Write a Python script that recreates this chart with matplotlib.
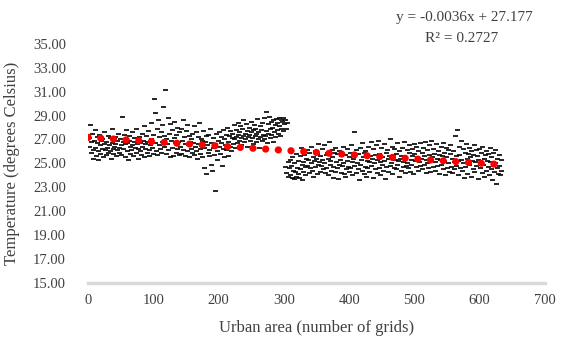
import matplotlib.pyplot as plt
import numpy as np

# temperature per urban grid count (1 value per grid)
temps = [
    27.1, 26.4, 28.2, 25.9, 26.8, 27.5, 26.1, 25.4, 26.9, 27.8,
    26.3, 25.6, 27.2, 26.7, 25.3, 26.0, 27.4, 26.5, 25.8, 26.9,
    27.0, 26.2, 25.5, 26.6, 27.6, 26.1, 25.7, 26.8, 26.3, 27.3,
    25.9, 26.5, 27.1, 26.0, 25.4, 26.7, 27.9, 26.2, 25.8, 26.4,
    27.2, 26.6, 25.6, 26.9, 26.1, 27.5, 25.9, 26.3, 27.0, 26.5,
    25.7, 28.9, 26.8, 26.2, 27.4, 25.5, 26.6, 27.8, 26.0, 26.7,
    25.3, 26.9, 27.3, 26.4, 25.8, 26.1, 27.6, 26.5, 25.6, 26.8,
    27.1, 26.3, 25.9, 27.9, 26.6, 25.4, 26.2, 27.2, 26.7, 26.0,
    25.7, 27.5, 26.4, 26.9, 25.5, 28.1, 26.2, 26.6, 27.3, 25.9,
    26.8, 27.7, 26.1, 25.6, 26.5, 27.0, 28.4, 26.3, 25.8, 27.4,
    30.4, 26.7, 29.2, 26.0, 27.9, 25.7, 28.6, 26.5, 27.2, 26.2,
    27.6, 25.9, 28.2, 26.8, 29.7, 26.4, 27.3, 31.1, 25.8, 27.0,
    26.6, 28.8, 26.1, 27.5, 25.5, 28.3, 26.9, 27.8, 26.3, 25.6,
    27.1, 28.5, 26.7, 25.9, 27.4, 26.2, 28.0, 26.8, 25.7, 27.6,
    26.4, 27.9, 25.8, 26.9, 28.6, 26.1, 27.2, 25.6, 26.6, 27.7,
    26.0, 28.2, 26.5, 25.5, 27.3, 26.8, 27.0, 26.2, 25.9, 27.5,
    26.7, 28.1, 25.7, 26.4, 27.6, 26.0, 25.4, 27.2, 26.6, 28.4,
    26.2, 25.8, 27.0, 26.9, 25.5, 27.7, 26.3, 24.6, 26.8, 27.3,
    24.1, 26.5, 25.9, 27.4, 26.1, 25.6, 27.9, 26.7, 24.9, 24.4,
    26.3, 27.1, 25.7, 26.6, 22.7, 27.5, 26.0, 25.3, 26.9, 27.6,
    26.4, 25.8, 27.2, 26.7, 24.8, 27.8, 26.2, 25.5, 27.0, 26.5,
    27.4, 26.1, 28.0, 26.8, 25.6, 27.3, 26.4, 27.7, 26.0, 27.1,
    27.5, 26.6, 28.2, 27.0, 26.3, 27.8, 27.2, 26.7, 28.4, 27.4,
    26.9, 27.6, 28.1, 27.1, 26.5, 27.9, 27.3, 28.6, 26.8, 27.5,
    27.0, 28.3, 27.7, 26.4, 27.2, 28.0, 27.4, 26.9, 28.5, 27.6,
    27.1, 27.8, 26.6, 28.2, 27.3, 27.9, 26.8, 27.5, 28.7, 27.0,
    27.6, 26.3, 28.1, 27.2, 27.8, 26.9, 28.4, 27.4, 27.0, 28.8,
    27.3, 29.3, 27.7, 26.7, 28.3, 27.5, 28.9, 27.1, 27.9, 28.5,
    27.4, 28.0, 26.8, 28.6, 27.6, 28.2, 27.2, 28.7, 27.8, 28.4,
    27.5, 28.8, 28.1, 27.3, 28.6, 27.9, 28.5, 27.7, 28.8, 28.3,
    28.6, 24.7, 27.9, 24.2, 28.4, 25.1, 23.9, 24.6, 25.3, 24.0,
    24.8, 23.8, 25.5, 24.4, 23.7, 25.0, 24.3, 25.8, 23.9, 24.6,
    25.2, 24.1, 23.8, 25.6, 24.5, 26.3, 24.9, 23.6, 25.1, 24.3,
    25.7, 24.7, 24.0, 25.4, 26.1, 24.8, 25.3, 24.2, 25.9, 24.6,
    25.0, 26.4, 24.4, 25.5, 23.9, 25.2, 24.7, 26.0, 25.4, 24.1,
    25.8, 24.9, 26.6, 25.1, 24.3, 25.6, 24.8, 26.2, 25.3, 24.5,
    25.0, 26.5, 24.2, 25.7, 24.6, 25.9, 24.0, 25.4, 26.8, 24.9,
    25.2, 24.4, 26.1, 25.5, 23.8, 24.7, 25.9, 24.3, 26.3, 25.1,
    24.6, 25.8, 23.7, 24.9, 26.0, 25.3, 24.2, 25.6, 24.8, 26.4,
    25.0, 24.1, 25.7, 23.9, 24.5, 26.2, 25.2, 24.7, 25.5, 24.3,
    25.9, 24.6, 26.5, 25.1, 24.0, 25.4, 27.6, 24.8, 25.7, 24.2,
    26.1, 25.0, 24.5, 25.8, 23.6, 26.3, 24.9, 25.3, 24.4, 26.7,
    25.5, 24.1, 25.9, 24.7, 26.0, 23.9, 25.2, 24.6, 26.4, 25.1,
    24.3, 25.6, 26.8, 24.8, 25.4, 23.8, 26.2, 25.0, 24.5, 25.7,
    26.5, 24.2, 25.3, 26.9, 24.6, 25.8, 24.0, 25.1, 26.3, 24.9,
    25.5, 24.4, 26.6, 25.2, 23.7, 25.9, 24.7, 26.1, 25.4, 24.3,
    25.6, 27.0, 24.8, 25.0, 26.4, 24.1, 25.7, 24.6, 26.2, 25.3,
    24.5, 25.8, 26.7, 24.9, 25.2, 23.9, 26.0, 25.4, 24.4, 25.6,
    26.3, 24.7, 25.1, 26.8, 24.2, 25.5, 24.8, 26.1, 25.0, 24.6,
    25.9, 26.5, 24.3, 25.3, 24.9, 26.2, 25.6, 24.1, 25.8, 26.6,
    25.2, 24.7, 26.4, 25.5, 24.4, 26.0, 25.1, 24.8, 26.7, 25.4,
    24.5, 25.9, 26.3, 24.9, 25.6, 26.8, 24.2, 25.3, 26.1, 25.0,
    24.6, 26.5, 25.7, 24.3, 25.2, 26.9, 25.5, 24.7, 26.2, 25.8,
    24.4, 25.1, 26.6, 25.4, 24.8, 26.0, 25.7, 24.1, 25.3, 26.4,
    24.9, 25.6, 26.7, 24.5, 25.9, 25.2, 24.0, 26.3, 25.5, 24.6,
    26.1, 25.0, 24.3, 25.8, 26.5, 24.7, 25.4, 24.2, 26.0, 25.1,
    24.5, 27.3, 25.6, 24.8, 27.8, 25.2, 24.0, 26.4, 25.7, 24.6,
    26.9, 25.3, 24.4, 26.2, 25.0, 23.8, 25.9, 24.7, 26.6, 25.4,
    24.1, 25.8, 26.3, 24.9, 25.5, 23.9, 26.0, 25.2, 24.5, 25.7,
    26.5, 24.3, 25.1, 26.1, 24.8, 25.6, 23.7, 25.3, 26.2, 24.6,
    25.0, 25.9, 24.2, 26.4, 24.9, 25.4, 23.9, 25.7, 24.4, 26.0,
    25.2, 24.7, 25.8, 24.0, 26.3, 25.1, 24.5, 25.5, 23.6, 24.8,
    25.9, 24.3, 25.0, 26.1, 23.3, 24.6, 25.4, 24.1, 25.7, 24.8,
    24.0, 25.3, 24.4,
]
grids = np.arange(1, len(temps) + 1)

# linear trend as printed on the chart
slope = -0.0036
intercept = 27.177
r2 = 0.2727

xticks = [0, 100, 200, 300, 400, 500, 600, 700]
yticks = [15, 17, 19, 21, 23, 25, 27, 29, 31, 33, 35]

plt.rcParams['font.family'] = ['Liberation Serif', 'DejaVu Serif']
txt = '#404040'

fig = plt.figure(figsize=(5.68, 3.51), dpi=100)
ax = fig.add_axes([0.155, 0.194, 0.8045, 0.681])

ax.plot(grids, temps, ls='none', marker='_', ms=3.6, mew=1.2, color='black', zorder=2)

xt = np.array([0, grids[-1]])
ax.plot(xt, slope * xt + intercept, color='#ff0000', lw=5.2,
        dashes=(0.01, 1.75), dash_capstyle='round', zorder=3)

ax.set_xlim(0, 700)
ax.set_ylim(15, 35)
ax.set_xticks(xticks)
ax.set_yticks(yticks)
ax.set_yticklabels([f'{v:.2f}' for v in yticks])
ax.tick_params(length=0, labelsize=10.5, colors=txt)
ax.tick_params(axis='y', pad=16)
ax.tick_params(axis='x', pad=8)
for s in ['top', 'right', 'left']:
    ax.spines[s].set_visible(False)
ax.spines['bottom'].set_color('#d9d9d9')
ax.spines['bottom'].set_linewidth(2.5)

ax.set_xlabel('Urban area (number of grids)', fontsize=12, color=txt)
ax.xaxis.set_label_coords(0.5, -0.155)
ax.set_ylabel('Temperature (degrees Celsius)', fontsize=12, color=txt)
ax.yaxis.set_label_coords(-0.149, 0.5)

fig.text(464 / 568, 1 - 18 / 351, 'y = -0.0036x + 27.177', ha='center', va='center',
         fontsize=11, color=txt)
fig.text(462 / 568, 1 - 38 / 351, f'R² = {r2}', ha='center', va='center',
         fontsize=11, color=txt)

fig.savefig('out.png', dpi=100)
